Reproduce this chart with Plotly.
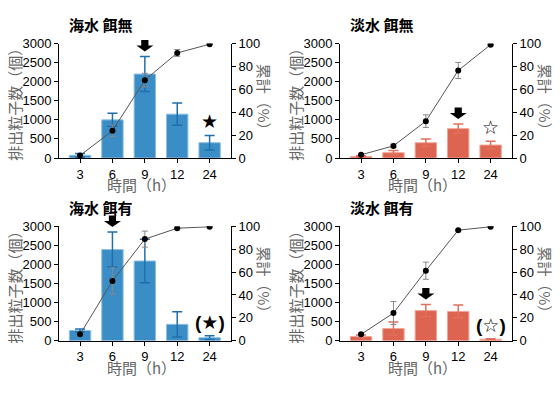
import plotly.graph_objects as go

W, H = 560, 393

hours = ["3", "6", "9", "12", "24"]

# 海水 餌無
sw_nf_bar = [70, 1000, 2200, 1150, 400]
sw_nf_bar_err = [50, 170, 460, 290, 190]
sw_nf_cum = [2.2, 23.8, 68.0, 91.8, 99.4]
sw_nf_cum_err = [1, 5, 6, 3, 0.5]

# 淡水 餌無
fw_nf_bar = [40, 140, 400, 770, 340]
fw_nf_bar_err = [20, 55, 100, 120, 100]
fw_nf_cum = [2.8, 10.6, 32.2, 76.5, 99.0]
fw_nf_cum_err = [1, 1.5, 5.5, 7, 0.5]

# 海水 餌有
sw_f_bar = [270, 2390, 2090, 430, 80]
sw_f_bar_err = [40, 460, 570, 330, 50]
sw_f_cum = [5.6, 52.2, 88.8, 98.3, 99.6]
sw_f_cum_err = [1, 11.5, 7, 0.5, 0.3]

# 淡水 餌有
fw_f_bar = [110, 320, 790, 770, 40]
fw_f_bar_err = [40, 170, 160, 170, 10]
fw_f_cum = [5.6, 24.2, 61.2, 96.6, 99.6]
fw_f_cum_err = [1, 10, 7.5, 0.5, 0.3]

titles = ["海水 餌無", "淡水 餌無", "海水 餌有", "淡水 餌有"]
arrow_idx = [2, 3, 1, 2]
star_idx = [4, 4, 4, 4]
star_text = ["★", "☆", "<b>(</b>★<b>)</b>", "<b>(</b>☆<b>)</b>"]

Y_MAX = 3000
y_ticks = [0, 500, 1000, 1500, 2000, 2500, 3000]
y2_ticks = [0, 20, 40, 60, 80, 100]

BLUE = "#3b8dc5"
BLUE_LINE = "#8cbfe2"
BLUE_ERR = "#1f6fae"
RED = "#dc6450"
RED_LINE = "#f0a796"
RED_ERR = "#e0705c"

panels = [
    (sw_nf_bar, sw_nf_bar_err, sw_nf_cum, sw_nf_cum_err, BLUE, BLUE_LINE, BLUE_ERR),
    (fw_nf_bar, fw_nf_bar_err, fw_nf_cum, fw_nf_cum_err, RED, RED_LINE, RED_ERR),
    (sw_f_bar, sw_f_bar_err, sw_f_cum, sw_f_cum_err, BLUE, BLUE_LINE, BLUE_ERR),
    (fw_f_bar, fw_f_bar_err, fw_f_cum, fw_f_cum_err, RED, RED_LINE, RED_ERR),
]

# pixel boxes: (left, right, top, bottom)
boxes = [(59, 231, 38, 157), (340, 512, 38, 157), (59, 231, 228, 347), (340, 512, 228, 347)]

TICKFONT = dict(family="Liberation Sans, Arial, sans-serif", size=13, color="#000")
CJK = "Noto Sans CJK JP, sans-serif"

# block arrow glyph (pixels relative to its anchor point)
ARROW_PATH = "M 0 5 L 8.5 11 L 3.6 11 L 3.6 16.5 L -3.6 16.5 L -3.6 11 L -8.5 11 Z"

fig = go.Figure()
layout = dict(
    width=W, height=H, margin=dict(l=0, r=0, t=0, b=0),
    paper_bgcolor="white", plot_bgcolor="white", showlegend=False,
    annotations=[], shapes=[],
)

for i, (bars, berr, cum, cerr, col, ocol, ecol) in enumerate(panels):
    L, R, T, B = boxes[i]
    n = 2 * i + 1
    xa = "x" if i == 0 else f"x{i+1}"
    ya = f"y{n}" if n > 1 else "y"
    ya2 = f"y{n+1}"
    xk = "xaxis" if i == 0 else f"xaxis{i+1}"
    yk = "yaxis" if n == 1 else f"yaxis{n}"
    yk2 = f"yaxis{n+1}"
    dom_x = [L / W, R / W]
    dom_y = [(H - B) / H, (H - T) / H]

    fig.add_trace(go.Bar(
        x=hours, y=bars, xaxis=xa, yaxis=ya, width=0.66,
        marker=dict(color=col, line=dict(color=ocol, width=1)),
        error_y=dict(type="data", array=berr, visible=True, color=ecol, thickness=1.5, width=5),
    ))
    fig.add_trace(go.Scatter(
        x=hours, y=cum, xaxis=xa, yaxis=ya2, mode="lines+markers",
        line=dict(color="#555", width=1),
        marker=dict(color="#000", size=6),
        error_y=dict(type="data", array=cerr, visible=True, color="#888", thickness=1, width=3),
    ))

    layout[xk] = dict(
        domain=dom_x, anchor=ya, type="category", range=[-0.65, 4.66],
        showline=True, linecolor="#000", linewidth=1, ticks="outside", ticklen=4,
        tickcolor="#000", tickfont=TICKFONT, showgrid=False, zeroline=False, fixedrange=True,
    )
    layout[yk] = dict(
        domain=dom_y, anchor=xa, range=[0, Y_MAX], tickvals=y_ticks,
        showline=True, linecolor="#000", linewidth=1, ticks="outside", ticklen=4,
        tickcolor="#000", tickfont=TICKFONT, showgrid=False, zeroline=False,
    )
    layout[yk2] = dict(
        overlaying=ya, side="right", anchor=xa, range=[0, 100], tickvals=y2_ticks,
        showline=True, linecolor="#000", linewidth=1, ticks="outside", ticklen=4,
        tickcolor="#000", tickfont=TICKFONT, showgrid=False, zeroline=False,
    )

    ann = layout["annotations"]
    # panel title
    ann.append(dict(text=titles[i], x=(L + 8) / W, y=(H - (T - 20)) / H, xref="paper", yref="paper",
                    xanchor="left", yanchor="middle", showarrow=False,
                    font=dict(family=CJK, size=15, color="#000", weight="bold")))
    # left axis title
    ann.append(dict(text="排出粒子数（個）", x=(L - 44) / W, y=(H - (T + B) / 2) / H,
                    xref="paper", yref="paper", textangle=-90, showarrow=False,
                    xanchor="center", yanchor="middle",
                    font=dict(family=CJK, size=15, color="#666")))
    # right axis title
    ann.append(dict(text="累計（%）", x=(R + 33) / W, y=(H - (T + B) / 2) / H,
                    xref="paper", yref="paper", textangle=90, showarrow=False,
                    xanchor="center", yanchor="middle",
                    font=dict(family=CJK, size=15, color="#666")))
    # x axis title
    ann.append(dict(text="時間（h）", x=((L + R) / 2 - 4) / W, y=(H - (B + 28)) / H,
                    xref="paper", yref="paper", showarrow=False,
                    xanchor="center", yanchor="middle",
                    font=dict(family=CJK, size=15, color="#666")))
    # arrow marker above the peak bar (anchored on the error-bar top, not clipped)
    k = arrow_idx[i]
    top_frac = dom_y[0] + (bars[k] + berr[k]) / Y_MAX * (dom_y[1] - dom_y[0])
    layout["shapes"].append(dict(
        type="path", xref=xa, yref="paper", xsizemode="pixel", ysizemode="pixel",
        xanchor=k, yanchor=top_frac, path=ARROW_PATH,
        fillcolor="#000", line=dict(width=0), layer="above",
    ))
    # star marker
    s = star_idx[i]
    ann.append(dict(text=star_text[i], x=s, y=bars[s] + berr[s], xref=xa, yref=ya,
                    xanchor="center", yanchor="bottom", yshift=1, showarrow=False,
                    font=dict(family="Liberation Sans, DejaVu Sans", size=19, color="#000")))

fig.update_layout(**layout)
fig.write_html(
    "out.html",
    config={"displayModeBar": False},
    post_script="document.documentElement.style.margin='0';document.body.style.margin='0';"
                "document.body.style.overflow='hidden';",
)
